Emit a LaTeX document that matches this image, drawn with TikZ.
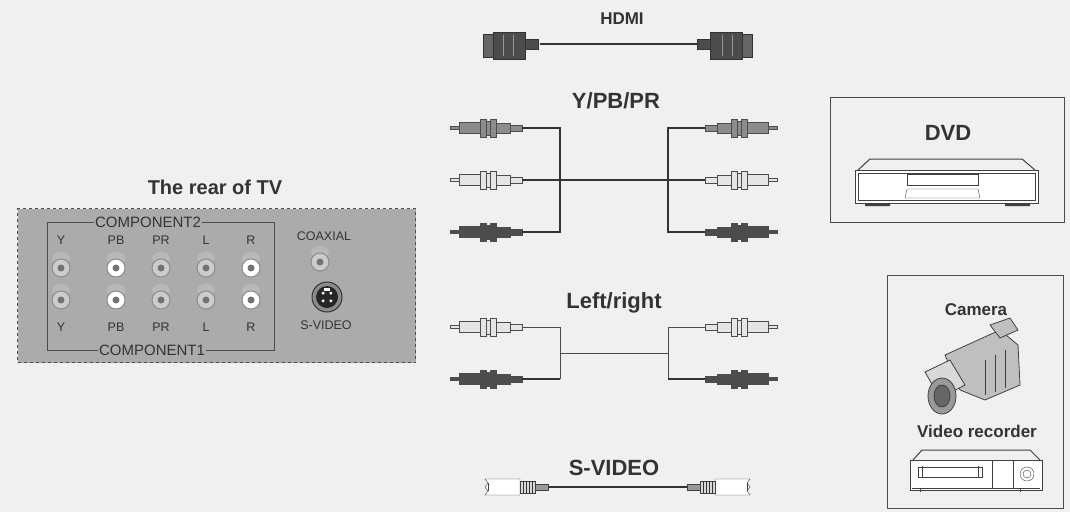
\documentclass[tikz,border=0pt]{standalone}
\usepackage{fontspec}
\setmainfont{Liberation Sans}
\usetikzlibrary{calc}
\begin{document}
\begin{tikzpicture}[x=1pt,y=-1pt,
  lbl/.style={font=\bfseries\fontsize{22}{22}\selectfont,text=black!80},
  mlbl/.style={font=\bfseries\fontsize{17}{17}\selectfont,text=black!80},
  small/.style={font=\fontsize{12.5}{12.5}\selectfont,text=black!80,inner sep=1pt},
  wire/.style={line width=1.3pt,black!80},
  thin wire/.style={line width=0.7pt,black!70},
  box/.style={draw=black!70,line width=1pt},
  rca/.pic={\begin{scope}[draw=black!70,line width=0.5pt]
     \filldraw[fill=#1] (0,-1.5) rectangle (9,1.5);
     \filldraw[fill=#1] (9,-5.5) rectangle (30,5.5);
     \filldraw[fill=#1] (30,-9) rectangle (36,9);
     \filldraw[fill=#1] (36,-7) rectangle (40,7);
     \filldraw[fill=#1] (40,-9) rectangle (46,9);
     \filldraw[fill=#1] (46,-5) rectangle (60,5);
     \filldraw[fill=#1] (60,-3) rectangle (72,3);
   \end{scope}},
  jack/.pic={\fill[black!28] (0,-10) ellipse (9 and 6);
     \filldraw[draw=black!45,line width=1pt,fill=#1] (0,0) circle (9);
     \fill[black!55] (0,0) circle (3.5);}
]
\useasboundingbox (0,0) rectangle (1070,512);
\fill[gray!12] (0,0) rectangle (1070,512);

% TV rear
\node[lbl,font=\bfseries\fontsize{20}{20}\selectfont] (title) at (215,187) {The rear of TV};
\node[draw=black!70,dashed,line width=1pt,fill=black!33,minimum width=398,minimum height=154,anchor=north west] (tv) at (17,208) {};
\draw[black!70,line width=1pt] (47,222) rectangle (274,350);
\node[small,font=\fontsize{15}{15}\selectfont,fill=black!33] (c2) at (148,222) {COMPONENT2};
\node[small,font=\fontsize{15}{15}\selectfont,fill=black!33] (c1) at (152,350) {COMPONENT1};
\foreach \x/\t/\c in {61/Y/black!20,116/PB/white,161/PR/black!20,206/L/black!20,251/R/white}{
  \node[small] at (\x,240) {\t};
  \node[small] at (\x,327) {\t};
  \pic at (\x,268) {jack=\c};
  \pic at (\x,300) {jack=\c};
}
\node[small] (coax) at (324,236) {COAXIAL};
\pic at (320,262) {jack=black!20};
\filldraw[draw=black!80,fill=black!45,line width=1pt] (327,297) circle (15);
\fill[black!85] (327,297) circle (11);
\foreach \a in {45,135,225,315}{\fill[white] ($(327,297)+(\a:5.5)$) circle (1.7);}
\fill[white] (324,288) rectangle (330,290.5);
\node[small] (sv) at (326,325) {S-VIDEO};

% HDMI
\node[mlbl] (hdmi) at (622,19) {HDMI};
\coordinate (h1) at (540,44); \coordinate (h2) at (706,44);
\draw[wire,line width=1.6pt] (h1) -- (h2);
\foreach \s/\xa in {1/483,-1/752}{
  \begin{scope}[xshift=\xa,xscale=\s]
  \filldraw[draw=black!80,fill=black!60] (0,34) rectangle (10,57);
  \filldraw[draw=black!80,fill=black!70] (10,32) rectangle (42,59);
  \draw[black!40] (20,35)--(20,56) (30,35)--(30,56);
  \filldraw[draw=black!80,fill=black!70] (42,39) rectangle (55,49);
  \end{scope}}

% Y/PB/PR
\node[lbl] (ypbpr) at (616,101) {Y/PB/PR};
\foreach \y/\c in {128/black!45,180/black!10,232/black!70}{
  \pic at (450,\y) {rca=\c};
  \pic[xscale=-1] at (777,\y) {rca=\c};
}
\coordinate (a1) at (522,128); \coordinate (a3) at (522,232);
\coordinate (b1) at (705,128); \coordinate (b3) at (705,232);
\draw[wire] (a1) -| (560,232) -- (a3);
\draw[wire] (b1) -| (668,232) -- (b3);
\draw[wire] (522,180) -- (705,180);

% Left/right
\node[lbl] (lr) at (614,303) {Left/right};
\foreach \y/\c in {327/black!10,379/black!70}{
  \pic at (450,\y) {rca=\c};
  \pic[xscale=-1] at (777,\y) {rca=\c};
}
\draw[thin wire] (522,327) -| (560,379);
\draw[wire] (560,379) -- (522,379);
\draw[thin wire] (705,327) -| (668,379);
\draw[wire] (668,379) -- (705,379);
\draw[thin wire] (560,353) -- (668,353);

% S-VIDEO
\node[lbl] (svid) at (614,468) {S-VIDEO};
\draw[wire] (548,487) -- (690,487);
\foreach \s/\xa in {1/485,-1/750}{
  \begin{scope}[xshift=\xa,xscale=\s]
  \filldraw[draw=black!75,fill=white] (0,479) -- (3,483) -- (0,487) -- (3,491) -- (0,495) -- (35,495) -- (35,479) -- cycle;
  \draw[black!75] (3,483) -- (3,491);
  \filldraw[draw=black!75,fill=black!15] (35,481) rectangle (50,493);
  \foreach \k in {38,41,44,47} \draw[black!80,line width=1pt] (\k,481) -- (\k,493);
  \filldraw[draw=black!75,fill=black!40] (50,484) rectangle (63,490);
  \end{scope}}

% DVD
\node[box,minimum width=234,minimum height=125,anchor=north west] (dvdbox) at (830,97) {};
\node[lbl] (dvd) at (948,133) {DVD};
\draw[black!75,line width=1pt] (858,170) -- (870,159) -- (1022,159) -- (1035,170);
\filldraw[draw=black!75,fill=white,line width=1pt] (855,170) rectangle (1038,203);
\draw[black!75] (858,173) rectangle (1035,200);
\draw[black!75] (907,174) rectangle (978,185);
\draw[black!75] (907,189) -- (978,189) -- (980,198) -- (905,198) -- cycle;
\fill[black!75] (865,203) rectangle (890,206) (1005,203) rectangle (1030,206);

% Camera / Video recorder
\node[box,minimum width=176,minimum height=233,anchor=north west] (cambox) at (887,275) {};
\node[mlbl] (cam) at (976,310) {Camera};
\begin{scope}[draw=black!75,fill=black!25,line width=0.8pt]
  \filldraw (945,355) -- (1000,330) -- (1018,345) -- (1020,385) -- (985,400) -- (960,390) -- cycle;
  \filldraw (990,325) -- (1010,318) -- (1018,330) -- (1000,338) -- cycle;
  \filldraw[fill=black!15] (925,372) -- (950,360) -- (965,385) -- (940,398) -- cycle;
  \filldraw[fill=black!40] (942,396) ellipse (14 and 18);
  \filldraw[fill=black!60] (942,396) ellipse (8 and 11);
  \draw (985,360) -- (985,395) (995,355) -- (995,392) (1005,350) -- (1005,388);
\end{scope}
\node[mlbl] (vr) at (977,431) {Video recorder};
\draw[black!75,line width=1pt] (913,460) -- (922,450) -- (1030,450) -- (1040,460);
\filldraw[draw=black!75,fill=white,line width=1pt] (910,460) rectangle (1042,490);
\draw[black!75] (912,488) -- (1040,488);
\draw[black!75] (918,467) rectangle (982,477);
\draw[black!75] (922,466) -- (922,478) (978,466) -- (978,478);
\draw[black!75] (992,460) -- (992,488) (1013,460) -- (1013,488);
\draw[black!75] (1027,474) circle (7) (1027,474) circle (4);
\draw[black!75] (920,488) -- (920,492) (1020,488) -- (1020,492);
\end{tikzpicture}
\end{document}
